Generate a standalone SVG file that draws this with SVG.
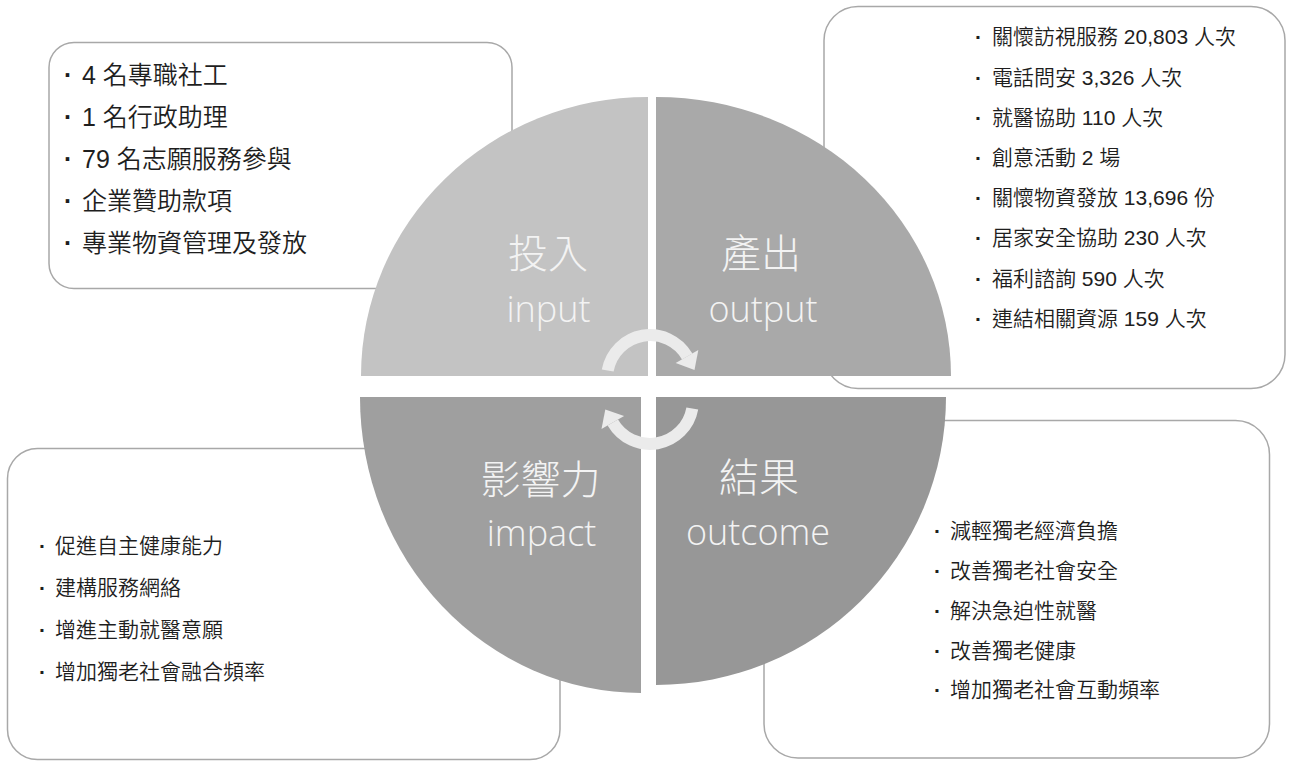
<svg xmlns="http://www.w3.org/2000/svg" width="1293" height="762" viewBox="0 0 1293 762">
<style>
.box{fill:#ffffff;stroke:#a8a8a8;stroke-width:1.5}
.t{font-family:"Liberation Sans","Noto Sans CJK TC",sans-serif;font-weight:350;fill:#1e1e1e}
.b{font-weight:700}
.t25{font-size:25px}
.t21{font-size:21px}
.lab{font-family:"Open Sans","Noto Sans CJK TC",sans-serif;font-weight:300;fill:#f3f3f3;text-anchor:middle}
.cj{font-size:40px}
.en{font-size:36px}
.arc{fill:none;stroke:#ebebeb;stroke-width:12}
.head{fill:#ebebeb}
</style>
<rect width="1293" height="762" fill="#ffffff"/>
<g id="box-input">
<rect class="box" x="49" y="42.5" width="463" height="246" rx="25"/>
<text class="t t25" y="84"><tspan class="b" x="64">·</tspan><tspan x="82">4 名專職社工</tspan></text>
<text class="t t25" y="126"><tspan class="b" x="64">·</tspan><tspan x="82">1 名行政助理</tspan></text>
<text class="t t25" y="168"><tspan class="b" x="64">·</tspan><tspan x="82">79 名志願服務參與</tspan></text>
<text class="t t25" y="210"><tspan class="b" x="64">·</tspan><tspan x="82">企業贊助款項</tspan></text>
<text class="t t25" y="252"><tspan class="b" x="64">·</tspan><tspan x="82">專業物資管理及發放</tspan></text>
</g>
<g id="box-output">
<rect class="box" x="824" y="6.5" width="461" height="382" rx="34"/>
<text class="t t21" y="44.4"><tspan class="b" x="975">·</tspan><tspan x="992">關懷訪視服務 20,803 人次</tspan></text>
<text class="t t21" y="84.6"><tspan class="b" x="975">·</tspan><tspan x="992">電話問安 3,326 人次</tspan></text>
<text class="t t21" y="124.8"><tspan class="b" x="975">·</tspan><tspan x="992">就醫協助 110 人次</tspan></text>
<text class="t t21" y="165"><tspan class="b" x="975">·</tspan><tspan x="992">創意活動 2 場</tspan></text>
<text class="t t21" y="205.2"><tspan class="b" x="975">·</tspan><tspan x="992">關懷物資發放 13,696 份</tspan></text>
<text class="t t21" y="245.4"><tspan class="b" x="975">·</tspan><tspan x="992">居家安全協助 230 人次</tspan></text>
<text class="t t21" y="285.6"><tspan class="b" x="975">·</tspan><tspan x="992">福利諮詢 590 人次</tspan></text>
<text class="t t21" y="325.8"><tspan class="b" x="975">·</tspan><tspan x="992">連結相關資源 159 人次</tspan></text>
</g>
<g id="box-impact">
<rect class="box" x="7.5" y="448.5" width="552.5" height="311" rx="30"/>
<text class="t t21" y="553"><tspan class="b" x="39">·</tspan><tspan x="55">促進自主健康能力</tspan></text>
<text class="t t21" y="595"><tspan class="b" x="39">·</tspan><tspan x="55">建構服務網絡</tspan></text>
<text class="t t21" y="637"><tspan class="b" x="39">·</tspan><tspan x="55">增進主動就醫意願</tspan></text>
<text class="t t21" y="679"><tspan class="b" x="39">·</tspan><tspan x="55">增加獨老社會融合頻率</tspan></text>
</g>
<g id="box-outcome">
<rect class="box" x="764" y="420.5" width="505.5" height="337.5" rx="34"/>
<text class="t t21" y="538"><tspan class="b" x="934">·</tspan><tspan x="950">減輕獨老經濟負擔</tspan></text>
<text class="t t21" y="578"><tspan class="b" x="934">·</tspan><tspan x="950">改善獨老社會安全</tspan></text>
<text class="t t21" y="618"><tspan class="b" x="934">·</tspan><tspan x="950">解決急迫性就醫</tspan></text>
<text class="t t21" y="658"><tspan class="b" x="934">·</tspan><tspan x="950">改善獨老健康</tspan></text>
<text class="t t21" y="697"><tspan class="b" x="934">·</tspan><tspan x="950">增加獨老社會互動頻率</tspan></text>
</g>
<g id="quadrant-input">
<path d="M648,376 H361 A287,279 0 0 1 648,97 Z" fill="#c3c3c3"/>
</g>
<g id="quadrant-output">
<path d="M656,376 V97 A295,279 0 0 1 951,376 Z" fill="#a9a9a9"/>
</g>
<g id="quadrant-impact">
<path d="M641,397 V693 A281,296 0 0 1 360,397 Z" fill="#9f9f9f"/>
</g>
<g id="quadrant-outcome">
<path d="M656,397 H946 A290,288 0 0 1 656,685 Z" fill="#979797"/>
</g>
<g id="connectors">
<path class="arc" d="M607.7,370.5 A43,43 0 0 1 687.2,356.5"/>
<polygon class="head" points="698.3,350 675.7,363 694.5,370"/>
<path class="arc" d="M692.3,408.5 A43,43 0 0 1 612.8,422.5"/>
<polygon class="head" points="601.5,429 624.1,416 605.3,409.5"/>
</g>
<g id="labels">
<text class="lab cj" x="548" y="268">投入</text>
<text class="lab en" x="548.5" y="322">input</text>
<text class="lab cj" x="761" y="268">產出</text>
<text class="lab en" x="763" y="322">output</text>
<text class="lab cj" x="540.5" y="494">影響力</text>
<text class="lab en" x="541.5" y="546">impact</text>
<text class="lab cj" x="759" y="492">結果</text>
<text class="lab en" x="758" y="545">outcome</text>
</g>
</svg>
